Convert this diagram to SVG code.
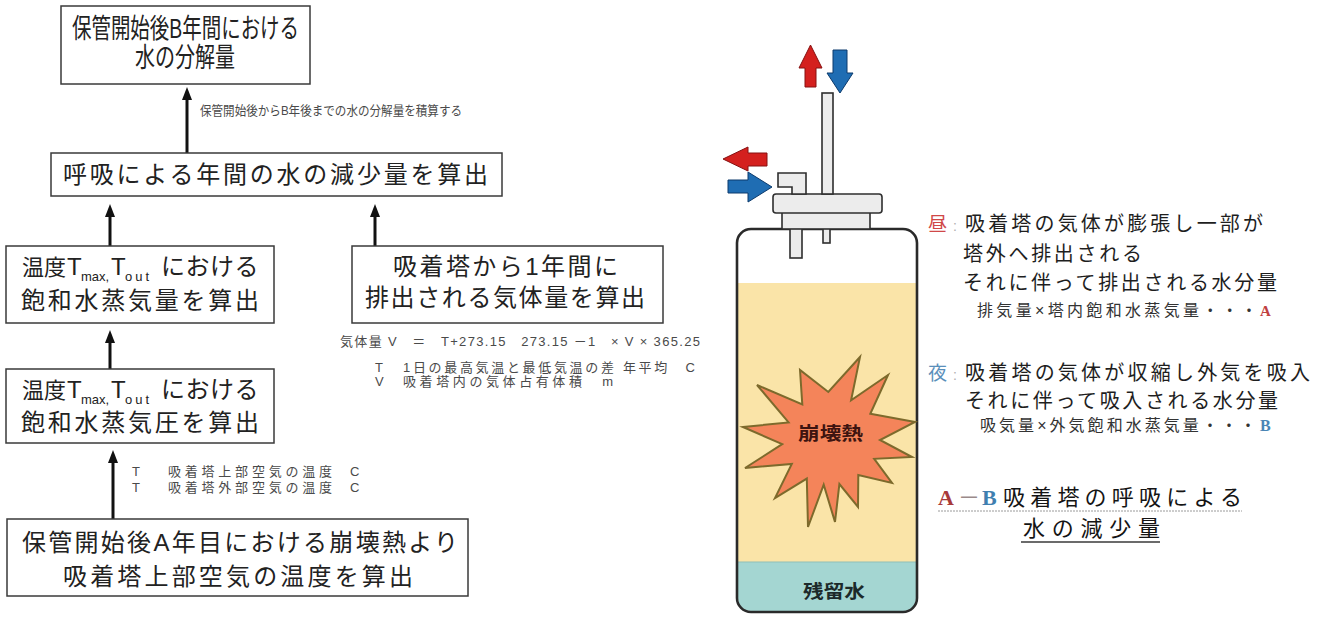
<svg xmlns="http://www.w3.org/2000/svg" width="1329" height="617" viewBox="0 0 1329 617">
  <defs>
    <style>
      .box { fill: #ffffff; stroke: #3a3a3a; stroke-width: 1.5; }
      .bt { font-family: "Liberation Sans", "Noto Sans CJK JP", sans-serif; font-size: 24px; fill: #222222; }
      .big { font-size: 27px; }
      .sub { font-size: 13px; }
      .note { font-family: "Liberation Sans", "Noto Sans CJK JP", sans-serif; font-size: 13px; fill: #4a4a4a; }
      .rt { font-family: "Liberation Sans", "Noto Sans CJK JP", sans-serif; font-size: 20px; fill: #1e1e1e; }
      .rs { font-family: "Liberation Sans", "Noto Sans CJK JP", sans-serif; font-size: 16px; fill: #333333; }
      .serif { font-family: "Liberation Serif", "Noto Sans CJK JP", serif; font-weight: bold; }
      .flow { stroke: #111111; stroke-width: 3; fill: none; marker-end: url(#head); }
      .part { fill: #ececec; stroke: #2e2e2e; stroke-width: 1.6; }
      .red { fill: #d4201e; stroke: #861010; stroke-width: 1; }
      .blue { fill: #1f6db3; stroke: #0c3a6c; stroke-width: 1; }
    </style>
    <marker id="head" viewBox="0 0 13 10" refX="0" refY="5" markerWidth="13" markerHeight="10" markerUnits="userSpaceOnUse" orient="auto">
      <path d="M0,0 L13,5 L0,10 z" fill="#111111"/>
    </marker>
  </defs>

  <rect width="1329" height="617" fill="#ffffff"/>

  <!-- flow connectors -->
  <g id="connectors">
    <line class="flow" x1="187" y1="153" x2="187" y2="100"/>
    <line class="flow" x1="110" y1="246" x2="110" y2="217"/>
    <line class="flow" x1="375" y1="246" x2="375" y2="217"/>
    <line class="flow" x1="110" y1="369" x2="110" y2="343"/>
    <line class="flow" x1="113" y1="519" x2="113" y2="463"/>
  </g>

  <!-- flow boxes -->
  <g id="decomposition-total">
    <rect class="box" x="61" y="6" width="249" height="78"/>
    <text class="bt big" x="72" y="38" textLength="227" lengthAdjust="spacingAndGlyphs">保管開始後B年間における</text>
    <text class="bt big" x="135" y="67" textLength="100" lengthAdjust="spacingAndGlyphs">水の分解量</text>
  </g>

  <g id="annual-loss">
    <rect class="box" x="51" y="153" width="451" height="43"/>
    <text class="bt" x="63" y="183" textLength="425" lengthAdjust="spacing">呼吸による年間の水の減少量を算出</text>
  </g>

  <g id="saturated-amount">
    <rect class="box" x="6" y="246" width="268" height="77"/>
    <text class="bt" y="275"><tspan x="22" font-size="22">温度</tspan><tspan x="67">T</tspan><tspan class="sub" x="81" dy="6">max,</tspan><tspan x="111" dy="-6">T</tspan><tspan class="sub" x="125" dy="6" letter-spacing="3">out</tspan><tspan x="161" dy="-6" letter-spacing="0.5">における</tspan></text>
    <text class="bt" x="21" y="309" textLength="238" lengthAdjust="spacing">飽和水蒸気量を算出</text>
  </g>

  <g id="saturated-pressure">
    <rect class="box" x="6" y="369" width="268" height="74"/>
    <text class="bt" y="398"><tspan x="22" font-size="22">温度</tspan><tspan x="67">T</tspan><tspan class="sub" x="81" dy="6">max,</tspan><tspan x="111" dy="-6">T</tspan><tspan class="sub" x="125" dy="6" letter-spacing="3">out</tspan><tspan x="161" dy="-6" letter-spacing="0.5">における</tspan></text>
    <text class="bt" x="21" y="431" textLength="238" lengthAdjust="spacing">飽和水蒸気圧を算出</text>
  </g>

  <g id="upper-air-temperature">
    <rect class="box" x="7" y="519" width="461" height="77"/>
    <text class="bt" x="22" y="551" textLength="436" lengthAdjust="spacing">保管開始後A年目における崩壊熱より</text>
    <text class="bt" x="63" y="585" textLength="350" lengthAdjust="spacing">吸着塔上部空気の温度を算出</text>
  </g>

  <g id="exhaust-volume">
    <rect class="box" x="352" y="246" width="311" height="77"/>
    <text class="bt" x="393" y="275" textLength="225" lengthAdjust="spacing">吸着塔から1年間に</text>
    <text class="bt" x="365" y="306" textLength="280" lengthAdjust="spacing">排出される気体量を算出</text>
  </g>

  <!-- side notes -->
  <g id="notes">
    <text class="note" x="200" y="115" textLength="262" lengthAdjust="spacingAndGlyphs">保管開始後からB年後までの水の分解量を積算する</text>
    <text class="note" x="340" y="346" textLength="360" lengthAdjust="spacing">気体量 V　＝　T+273.15　273.15 －1　× V × 365.25</text>
    <text class="note" x="375" y="372">T</text>
    <text class="note" x="403" y="372" textLength="292" lengthAdjust="spacing">1日の最高気温と最低気温の差 年平均　C</text>
    <text class="note" x="375" y="386">V</text>
    <text class="note" x="403" y="386" textLength="210" lengthAdjust="spacing">吸着塔内の気体占有体積　m</text>
    <text class="note" x="132" y="476">T</text>
    <text class="note" x="168" y="476" textLength="164" lengthAdjust="spacing">吸着塔上部空気の温度</text>
    <text class="note" x="350" y="476">C</text>
    <text class="note" x="132" y="492">T</text>
    <text class="note" x="168" y="492" textLength="164" lengthAdjust="spacing">吸着塔外部空気の温度</text>
    <text class="note" x="350" y="492">C</text>
  </g>

  <!-- adsorption tower -->
  <g id="tower">
    <rect x="737" y="229" width="180" height="383" rx="14" fill="#ffffff"/>
    <rect x="738" y="283" width="178" height="279" fill="#fae4a8"/>
    <path d="M738,562 H916 V597 Q916,611 902,611 H752 Q738,611 738,597 Z" fill="#a4d6d2"/>
    <line x1="738" y1="562" x2="916" y2="562" stroke="#8fbfb8" stroke-width="1"/>
    <rect x="737" y="229" width="180" height="383" rx="14" fill="none" stroke="#2a2a2a" stroke-width="2.6"/>

    <polygon points="743,427 788.6,422.4 757,385 802.3,404.5 800,370 828.3,392 860,357 851.1,400.3 888,375 870.3,413.8 915,422 880,440 912,457 874.2,458.8 892,483 858.3,475 858,507 839.4,484 835,522 823.7,484.6 808,527 806.8,478.6 775,498 791.8,463.9 745,468 782.2,444.2" fill="#f4845a" stroke="#7d6a2c" stroke-width="2" stroke-linejoin="miter"/>
    <text x="798" y="440" textLength="65" lengthAdjust="spacingAndGlyphs" font-family="'Liberation Sans', 'Noto Sans CJK JP', sans-serif" font-size="18" font-weight="bold" fill="#3e1410">崩壊熱</text>
    <text x="803" y="598" textLength="62" lengthAdjust="spacingAndGlyphs" font-family="'Liberation Sans', 'Noto Sans CJK JP', sans-serif" font-size="18" font-weight="bold" fill="#1c2a2a">残留水</text>

    <!-- pipes below the cap -->
    <rect class="part" x="790" y="226" width="12" height="32"/>
    <rect class="part" x="823" y="226" width="7" height="17"/>
    <!-- cap -->
    <rect class="part" x="782" y="212" width="88" height="17"/>
    <rect class="part" x="773" y="194" width="109" height="19" rx="3"/>
    <rect class="part" x="822" y="93" width="11" height="101"/>
    <polygon class="part" points="778,173 806,173 806,194 792,194 792,187 778,187"/>

    <!-- gas flow arrows -->
    <polygon class="red" points="810.5,45 822,68 816,68 816,87 805,87 805,68 799,68"/>
    <polygon class="blue" points="833,50 847,50 847,73 853,73 840,93 827,73 833,73"/>
    <polygon class="red" points="723,159 748,147 748,153 767,153 767,166 748,166 748,171"/>
    <polygon class="blue" points="772,187 748,172 748,180 728,180 728,193 748,193 748,202"/>
  </g>

  <!-- daytime / night explanation -->
  <g id="day-text">
    <text x="928" y="231" font-family="'Liberation Sans', 'Noto Sans CJK JP', sans-serif" font-size="19" fill="#d04848">昼</text>
    <text x="953" y="231" font-family="'Liberation Sans', 'Noto Sans CJK JP', sans-serif" font-size="14" fill="#b0b0b0">:</text>
    <text class="rt" x="965" y="231" textLength="298" lengthAdjust="spacing">吸着塔の気体が膨張し一部が</text>
    <text class="rt" x="963" y="261" textLength="179" lengthAdjust="spacing">塔外へ排出される</text>
    <text class="rt" x="963" y="290" textLength="314" lengthAdjust="spacing">それに伴って排出される水分量</text>
    <text class="rs" x="977" y="316" textLength="280" lengthAdjust="spacing">排気量×塔内飽和水蒸気量・・・</text>
    <text class="serif" x="1260" y="316" font-size="15" fill="#c04040">A</text>
  </g>

  <g id="night-text">
    <text x="928" y="380" font-family="'Liberation Sans', 'Noto Sans CJK JP', sans-serif" font-size="19" fill="#5a8fba">夜</text>
    <text x="953" y="380" font-family="'Liberation Sans', 'Noto Sans CJK JP', sans-serif" font-size="14" fill="#b0b0b0">:</text>
    <text class="rt" x="965" y="380" textLength="345" lengthAdjust="spacing">吸着塔の気体が収縮し外気を吸入</text>
    <text class="rt" x="965" y="408" textLength="313" lengthAdjust="spacing">それに伴って吸入される水分量</text>
    <text class="rs" x="980" y="431" textLength="276" lengthAdjust="spacing">吸気量×外気飽和水蒸気量・・・</text>
    <text class="serif" x="1260" y="431" font-size="16" fill="#4a85b5">B</text>
  </g>

  <g id="summary-text">
    <text class="serif" x="938" y="505" font-size="22" fill="#a83a3a">A</text>
    <text x="958" y="505" font-family="'Liberation Sans', 'Noto Sans CJK JP', sans-serif" font-size="22" fill="#9a8a8a">－</text>
    <text class="serif" x="982" y="505" font-size="22" fill="#3f7fb0">B</text>
    <text x="1003" y="505" textLength="239" lengthAdjust="spacing" font-family="'Liberation Sans', 'Noto Sans CJK JP', sans-serif" font-size="22" fill="#141414">吸着塔の呼吸による</text>
    <line x1="938" y1="511" x2="1242" y2="511" stroke="#9a9a9a" stroke-width="1" stroke-dasharray="2,1"/>
    <text x="1023" y="536" textLength="137" lengthAdjust="spacing" font-family="'Liberation Sans', 'Noto Sans CJK JP', sans-serif" font-size="22" fill="#141414">水の減少量</text>
    <line x1="1021" y1="542" x2="1160" y2="542" stroke="#3a3a3a" stroke-width="1.3"/>
  </g>
</svg>
